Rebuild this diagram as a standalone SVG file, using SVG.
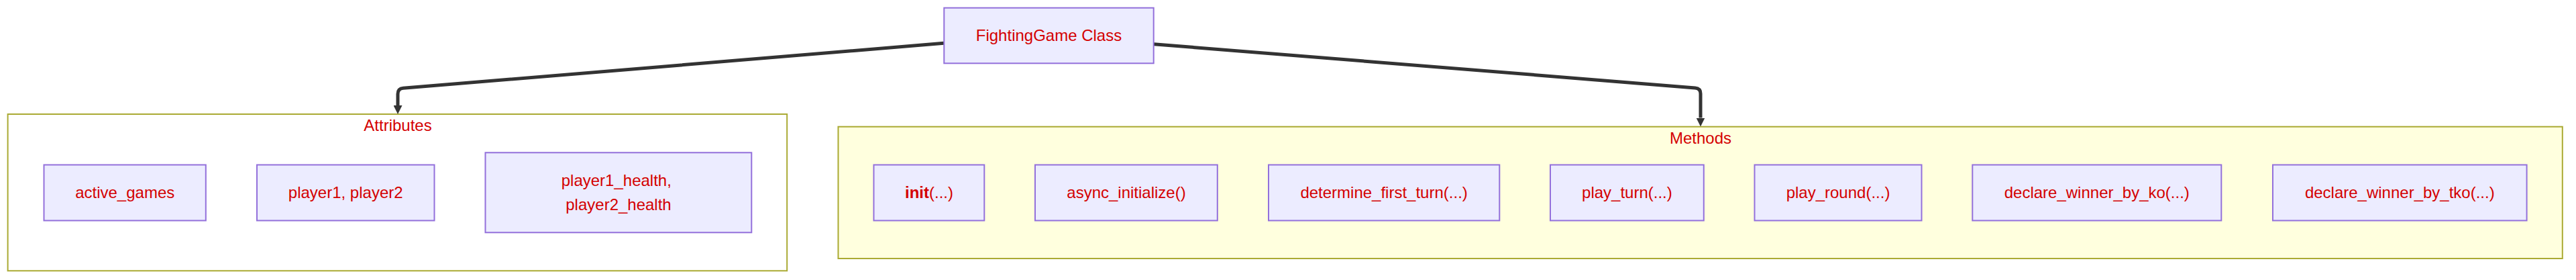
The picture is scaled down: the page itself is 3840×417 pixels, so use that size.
<svg xmlns="http://www.w3.org/2000/svg" width="3840" height="417" viewBox="0 0 3840 417">
<style>
.bg{fill:#ffffff}
.node rect{fill:#ECECFF;stroke:#9370DB;stroke-width:2}
.cluster rect{stroke:#aaaa33;stroke-width:2}
text{font-family:"Liberation Sans",Arial,sans-serif;font-size:24px;fill:#d40000;text-anchor:middle}
.edge{fill:none;stroke:#333333;stroke-width:5;stroke-linejoin:round}
</style>
<defs>
<marker id="arrow" markerUnits="userSpaceOnUse" markerWidth="13" markerHeight="13" refX="0" refY="6.5" orient="auto" viewBox="0 0 13 13">
<path d="M0,0 L13,6.5 L0,13 z" fill="#333333"/>
</marker>
</defs>
<rect class="bg" x="0" y="0" width="3840" height="417"/>

<g id="cluster-attributes" class="cluster">
<rect x="11.6" y="170" width="1161.6" height="233.3" fill="#ffffff"/>
<text x="593" y="195">Attributes</text>
</g>
<g id="cluster-methods" class="cluster">
<rect x="1249.5" y="188.7" width="2570.3" height="196.3" fill="#ffffde"/>
<text x="2535" y="214">Methods</text>
</g>

<g id="edges">
<path class="edge" d="M1407,64.3 L601,131.3 Q593,132 593,140 L593,157" marker-end="url(#arrow)"/>
<path class="edge" d="M1720,65.7 L2527,130.9 Q2535,131.5 2535,139.5 L2535,175.5" marker-end="url(#arrow)"/>
</g>

<g id="node-class" class="node">
<rect x="1407.3" y="11.7" width="312.4" height="82.6"/>
<text x="1563.5" y="61.4">FightingGame Class</text>
</g>

<g id="node-active-games" class="node">
<rect x="65.5" y="245.5" width="241.3" height="83"/>
<text x="186.2" y="295.4">active_games</text>
</g>
<g id="node-players" class="node">
<rect x="383" y="245.5" width="264.5" height="83"/>
<text x="515.2" y="295.4">player1, player2</text>
</g>
<g id="node-health" class="node">
<rect x="723.5" y="227.3" width="396.8" height="119"/>
<text x="918.8" y="276.7">player1_health,</text>
<text x="922" y="313.3">player2_health</text>
</g>

<g id="node-init" class="node">
<rect x="1302.5" y="245.5" width="164.8" height="83"/>
<text x="1385" y="295.4"><tspan font-weight="bold">init</tspan>(...)</text>
</g>
<g id="node-async" class="node">
<rect x="1543" y="245.5" width="271.8" height="83"/>
<text x="1679" y="295.4">async_initialize()</text>
</g>
<g id="node-determine" class="node">
<rect x="1891" y="245.5" width="344.3" height="83"/>
<text x="2063.1" y="295.4">determine_first_turn(...)</text>
</g>
<g id="node-play-turn" class="node">
<rect x="2311" y="245.5" width="228.8" height="83"/>
<text x="2425.4" y="295.4">play_turn(...)</text>
</g>
<g id="node-play-round" class="node">
<rect x="2615.5" y="245.5" width="249" height="83"/>
<text x="2740" y="295.4">play_round(...)</text>
</g>
<g id="node-ko" class="node">
<rect x="2940.3" y="245.5" width="371" height="83"/>
<text x="3125.8" y="295.4">declare_winner_by_ko(...)</text>
</g>
<g id="node-tko" class="node">
<rect x="3388" y="245.5" width="378.6" height="83"/>
<text x="3577.3" y="295.4">declare_winner_by_tko(...)</text>
</g>
</svg>
